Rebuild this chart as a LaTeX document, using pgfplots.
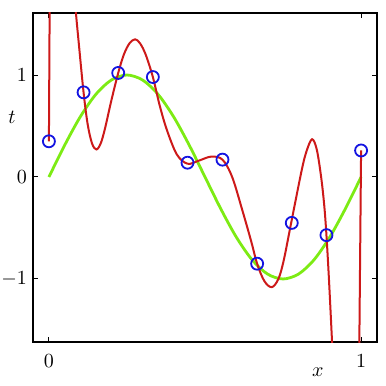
\documentclass[border=0pt]{standalone}
\usepackage{pgfplots}
\pgfplotsset{compat=1.18}
\definecolor{curvered}{RGB}{205,25,25}
\definecolor{sinegreen}{RGB}{125,235,20}
\definecolor{ptblue}{RGB}{20,20,225}
\begin{document}
\begin{tikzpicture}
\begin{axis}[
  scale only axis,
  width=172pt, height=164.5pt,
  xmin=-0.051, xmax=1.051,
  ymin=-1.618, ymax=1.608,
  xtick={0,1}, ytick={-1,0,1},
  tick align=inside,
  major tick length=2.5pt,
  tick style={black, line width=0.5pt},
  axis line style={line width=1.3pt},
  xticklabel style={yshift=-3pt},
  yticklabel style={xshift=0.5pt},
  xlabel={$x$}, ylabel={$t$},
  xlabel style={at={(rel axis cs:0.828,-0.091)}, anchor=center},
  ylabel style={at={(rel axis cs:-0.061,0.684)}, anchor=center, rotate=-90},
  clip=true,
]
% true function sin(2 pi x)
\addplot[sinegreen, line width=1.4pt, smooth] coordinates {
(0,0) (0.05,0.309) (0.1,0.588) (0.15,0.809) (0.2,0.951) (0.25,1.0)
(0.3,0.951) (0.35,0.809) (0.4,0.588) (0.45,0.309) (0.5,0)
(0.55,-0.309) (0.6,-0.588) (0.65,-0.809) (0.7,-0.951) (0.75,-1.0)
(0.8,-0.951) (0.85,-0.809) (0.9,-0.588) (0.95,-0.309) (1,0)
};
% M=9 polynomial fit (red)
\addplot[curvered, line width=1pt] coordinates {(0,0.35) (0.0025,1.75)};
\addplot[curvered, line width=1pt, smooth, tension=0.55] coordinates {
(0.084,1.75) (0.0865,1.61) (0.096,1.30) (0.111,0.83) (0.124,0.52)
(0.138,0.33) (0.152,0.27) (0.166,0.33) (0.18,0.48) (0.2,0.75)
(0.222,1.02) (0.24,1.20) (0.258,1.31) (0.276,1.35) (0.292,1.31)
(0.31,1.20) (0.333,0.98) (0.355,0.70) (0.378,0.46) (0.41,0.22)
(0.444,0.13) (0.48,0.16) (0.52,0.20) (0.556,0.17) (0.587,0.0)
(0.619,-0.32) (0.647,-0.62) (0.667,-0.85) (0.69,-1.02) (0.714,-1.08)
(0.735,-1.0) (0.752,-0.82) (0.776,-0.45) (0.81,0.07) (0.826,0.26)
(0.843,0.37) (0.858,0.27) (0.872,0.0) (0.882,-0.28) (0.889,-0.57)
(0.897,-1.0) (0.907,-1.62) (0.911,-1.9)
};
\addplot[curvered, line width=1pt] coordinates {(0.994,-1.75) (1,0.26)};
% observed data points
\addplot[only marks, mark=o, mark size=3pt, ptblue, mark options={line width=0.9pt}] coordinates {
(0,0.35) (0.111,0.83) (0.222,1.02) (0.333,0.98) (0.444,0.14)
(0.556,0.17) (0.667,-0.85) (0.778,-0.45) (0.889,-0.57) (1,0.26)
};
\coordinate (bl) at (rel axis cs:-0.0959,-0.1337);
\coordinate (tr) at (rel axis cs:1.0233,1.0395);
\end{axis}
\pgfresetboundingbox
\path (bl) rectangle (tr);
\end{tikzpicture}
\end{document}
